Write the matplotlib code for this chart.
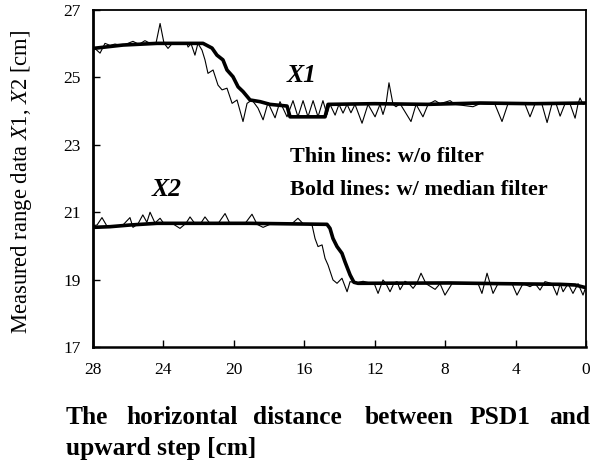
"""
Range data X1, X2 with and without median filter.
"""
import matplotlib
matplotlib.use('Agg')
import matplotlib.pyplot as plt

plt.rcParams['font.family'] = ['Liberation Serif', 'DejaVu Serif']
plt.rcParams['mathtext.fontset'] = 'custom'
plt.rcParams['mathtext.rm'] = 'Liberation Serif'
plt.rcParams['mathtext.it'] = 'Liberation Serif:italic'
plt.rcParams['mathtext.bf'] = 'Liberation Serif:bold'

# X1, bold line (median filter)
x1_bold_x = [28.0, 26.3, 24.36, 21.75, 21.24, 20.96, 20.62, 20.39, 20.05, 19.76, 19.48,
             19.08, 18.51, 17.95, 16.98, 16.81, 14.82, 14.65, 12.0, 9.0, 6.0, 3.0, 0.0]
x1_bold_y = [25.86, 25.96, 26.01, 26.01, 25.87, 25.66, 25.52, 25.22, 25.02, 24.72, 24.58,
             24.33, 24.28, 24.2, 24.15, 23.83, 23.83, 24.2, 24.22, 24.2, 24.24, 24.22, 24.24]

# X1, thin line (no filter)
x1_thin_x = [28.0, 27.6, 27.32, 27.03, 26.75, 26.35, 25.73, 25.39, 25.05, 24.71, 24.42,
             24.19, 23.97, 23.74, 23.51, 22.66, 22.6, 22.43, 22.21, 22.04, 21.81, 21.64,
             21.47, 21.18, 20.9, 20.67, 20.39, 20.1, 19.82, 19.48, 19.25, 18.97, 18.63,
             18.34, 18.06, 17.66, 17.38, 16.98, 16.64, 16.36, 16.07, 15.79, 15.5, 15.22,
             14.94, 14.71, 14.54, 14.25, 14.03, 13.8, 13.57, 13.35, 13.12, 12.72, 12.38,
             11.98, 11.7, 11.53, 11.36, 11.19, 10.96, 10.79, 10.56, 9.94, 9.65, 9.26,
             8.97, 8.57, 8.29, 7.72, 7.44, 6.42, 6.02, 5.17, 4.77, 4.43, 3.46, 3.18,
             2.89, 2.5, 2.21, 1.93, 1.7, 1.47, 1.19, 0.91, 0.62, 0.45, 0.34, 0.17, 0.0]
x1_thin_y = [25.91, 25.72, 26.01, 25.95, 25.99, 25.94, 26.07, 25.98, 26.09, 26.0, 26.02,
             26.6, 26.02, 25.86, 26.0, 26.0, 25.9, 26.0, 25.66, 26.01, 25.81, 25.52,
             25.12, 25.22, 24.77, 24.63, 24.68, 24.23, 24.33, 23.69, 24.23, 24.33, 24.09,
             23.74, 24.25, 23.8, 24.28, 23.83, 24.31, 23.83, 24.31, 23.83, 24.31, 23.83,
             24.31, 23.9, 24.2, 23.88, 24.2, 23.94, 24.2, 23.95, 24.2, 23.64, 24.2,
             23.83, 24.2, 23.9, 24.2, 24.84, 24.2, 24.13, 24.22, 23.69, 24.2, 23.83,
             24.2, 24.31, 24.22, 24.31, 24.2, 24.13, 24.22, 24.2, 23.69, 24.22, 24.2, 23.83,
             24.22, 24.2, 23.66, 24.22, 24.22, 23.85, 24.22, 24.22, 23.79, 24.22, 24.39, 24.2, 24.24]

# X2, bold line (median filter)
x2_bold_x = [28.0, 27.03, 25.9, 24.36, 19.08, 14.71, 14.54, 14.37, 14.14, 13.86, 13.69,
             13.4, 13.18, 12.95, 7.72, 4.88, 1.47, 0.62, 0.0]
x2_bold_y = [20.55, 20.57, 20.62, 20.67, 20.67, 20.64, 20.52, 20.22, 19.98, 19.78, 19.53,
             19.14, 18.92, 18.89, 18.9, 18.88, 18.86, 18.84, 18.76]

# X2, thin line (no filter)
x2_thin_x = [28.0, 27.77, 27.49, 27.2, 26.75, 26.3, 25.9, 25.73, 25.45, 25.17, 24.94,
             24.76, 24.48, 24.19, 23.97, 23.51, 23.06, 22.72, 22.49, 22.21, 21.92, 21.64,
             21.35, 20.9, 20.5, 20.22, 19.37, 18.97, 18.68, 18.34, 17.95, 16.7, 16.36,
             16.07, 15.56, 15.39, 15.22, 14.99, 14.82, 14.65, 14.37, 14.14, 13.86, 13.57,
             13.4, 13.06, 12.66, 12.27, 12.04, 11.81, 11.53, 11.36, 11.13, 10.9, 10.73,
             10.56, 10.28, 10.05, 9.82, 9.6, 9.37, 9.09, 8.57, 8.29, 8.01, 7.61, 6.13,
             5.91, 5.62, 5.28, 5.0, 4.2, 3.92, 3.58, 3.18, 2.89, 2.61, 2.33, 1.93, 1.65,
             1.47, 1.3, 1.02, 0.74, 0.45, 0.17, 0.0]
x2_thin_y = [20.6, 20.62, 20.84, 20.58, 20.58, 20.62, 20.84, 20.55, 20.65, 20.92, 20.7,
             21.0, 20.68, 20.82, 20.66, 20.67, 20.52, 20.67, 20.86, 20.66, 20.64, 20.86,
             20.66, 20.66, 20.96, 20.66, 20.66, 20.94, 20.64, 20.55, 20.64, 20.66, 20.82,
             20.66, 20.62, 20.22, 19.98, 20.03, 19.63, 19.43, 18.99, 18.89, 19.04, 18.64,
             18.94, 18.9, 18.95, 18.9, 18.9, 18.59, 18.99, 18.88, 18.64, 18.9, 18.94,
             18.7, 18.95, 18.88, 18.74, 18.9, 19.19, 18.88, 18.71, 18.88, 18.54, 18.88, 18.88,
             18.59, 19.19, 18.59, 18.88, 18.88, 18.54, 18.88, 18.79, 18.88, 18.69, 18.94, 18.88, 18.54,
             18.88, 18.64, 18.88, 18.59, 18.88, 18.54, 18.8]

x_ticks = [28, 24, 20, 16, 12, 8, 4, 0]
y_ticks = [17, 19, 21, 23, 25, 27]

fig = plt.figure(figsize=(5.94, 4.68), dpi=100)
ax = fig.add_axes([93 / 594, 1 - 347 / 468, 493 / 594, 337 / 468])

ax.plot(x1_thin_x, x1_thin_y, color='black', linewidth=0.8)
ax.plot(x2_thin_x, x2_thin_y, color='black', linewidth=0.8)
ax.plot(x1_bold_x, x1_bold_y, color='black', linewidth=2.6, solid_joinstyle='round')
ax.plot(x2_bold_x, x2_bold_y, color='black', linewidth=2.6, solid_joinstyle='round')

ax.set_xlim(28, 0)
ax.set_ylim(17, 27)
ax.set_xticks(x_ticks)
ax.set_yticks(y_ticks)
ax.tick_params(direction='in', length=5, width=1, labelsize=12.5)
ax.tick_params(axis='x', pad=11)
ax.tick_params(axis='y', pad=9)
for side in ['top', 'right', 'bottom']:
    ax.spines[side].set_linewidth(1.3)
ax.spines['left'].set_linewidth(2)
ax.spines['bottom'].set_linewidth(1.8)

ax.text(16.98, 25.07, 'X1', fontsize=18.5, fontweight='bold', fontstyle='italic', va='center')
ax.text(24.65, 21.66, 'X2', fontsize=18.5, fontweight='bold', fontstyle='italic', va='center')
ax.text(16.81, 22.64, 'Thin lines: w/o filter', fontsize=16, fontweight='bold', va='center')
ax.text(16.81, 21.66, 'Bold lines: w/ median filter', fontsize=16, fontweight='bold', va='center')

fig.text(22 / 594, 1 - 182 / 468, r'Measured range data $\mathit{X1}$, $\mathit{X2}$ [cm]',
         rotation=90, fontsize=16.3, ha='center', va='center')

# x label, justified over two lines like the original
words = ['The', 'horizontal', 'distance', 'between', 'PSD1', 'and']
word_px = [66, 126, 253, 365, 470, 549]
for w, px in zip(words, word_px):
    fig.text(px / 594, 1 - 424 / 468, w, fontsize=18.3, fontweight='bold', va='baseline')
fig.text(66 / 594, 1 - 455 / 468, 'upward step [cm]', fontsize=18.3, fontweight='bold', va='baseline')

fig.savefig('out.png', dpi=100)
